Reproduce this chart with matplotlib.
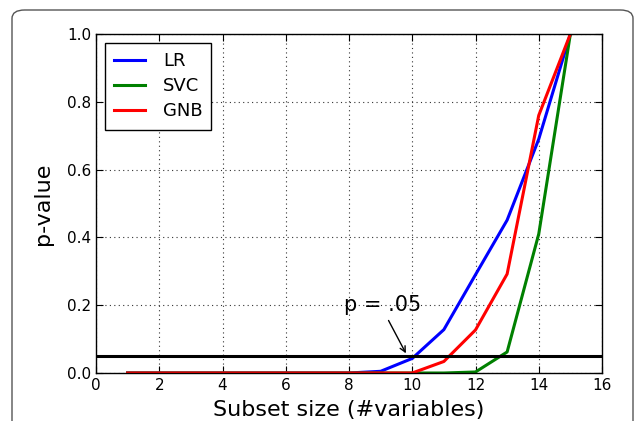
import matplotlib
matplotlib.use('Agg')
import matplotlib.pyplot as plt
from matplotlib.patches import FancyBboxPatch

# subset sizes and p-values per classifier
subset_size = [1, 2, 3, 4, 5, 6, 7, 8, 9, 10, 11, 12, 13, 14, 15]
lr_pvals = [0, 0, 0, 0, 0, 0, 0, 0, 0.005, 0.043, 0.128, 0.29, 0.451, 0.69, 1.0]
svc_pvals = [0, 0, 0, 0, 0, 0, 0, 0, 0, 0, 0, 0.003, 0.062, 0.41, 1.0]
gnb_pvals = [0, 0, 0, 0, 0, 0, 0, 0, 0, 0, 0.034, 0.127, 0.292, 0.76, 1.0]
threshold = 0.05

fig = plt.figure(figsize=(6.35, 4.21), dpi=100)

# rounded frame around the figure (runs off the bottom edge)
frame = FancyBboxPatch((12 / 635, -0.1), 621 / 635, 1.1 - 10 / 421,
                       boxstyle="round,pad=0,rounding_size=0.02",
                       transform=fig.transFigure, fill=False,
                       edgecolor='#555555', linewidth=1.0, clip_on=False)
fig.patches.append(frame)

ax = fig.add_axes([96 / 635, 1 - 373 / 421, 506 / 635, 339 / 421])

ax.plot(subset_size, lr_pvals, color='blue', lw=2.2, label='LR')
ax.plot(subset_size, svc_pvals, color='green', lw=2.2, label='SVC')
ax.plot(subset_size, gnb_pvals, color='red', lw=2.2, label='GNB')
ax.axhline(threshold, color='black', lw=2.2)

ax.text(7.85, 0.2, 'p = .05', fontsize=15, ha='left', va='center')
ax.annotate('', xy=(9.8, 0.058), xytext=(9.25, 0.155),
            arrowprops=dict(arrowstyle='->', color='black', lw=1.0,
                            shrinkA=0, shrinkB=0))

ax.set_xlim(0, 16)
ax.set_ylim(0, 1.0)
ax.set_xticks(range(0, 17, 2))
ax.set_yticks([0.0, 0.2, 0.4, 0.6, 0.8, 1.0])
ax.set_yticklabels(['0.0', '0.2', '0.4', '0.6', '0.8', '1.0'])
ax.grid(True, color='#333333', linestyle=(0, (1, 3)), linewidth=0.8)
ax.tick_params(direction='in', top=True, right=True, labelsize=11, length=5)
for s in ax.spines.values():
    s.set_linewidth(1.0)

ax.set_xlabel('Subset size (#variables)', fontsize=16, labelpad=5)
ax.set_ylabel('p-value', fontsize=16, labelpad=10)

leg = ax.legend(loc='upper left', fontsize=13, fancybox=False,
                edgecolor='black', framealpha=1, handlelength=1.7,
                handletextpad=1.0, borderpad=0.5, labelspacing=0.4,
                borderaxespad=0.5)
leg.get_frame().set_linewidth(1.0)

fig.savefig('out.png', dpi=100)
